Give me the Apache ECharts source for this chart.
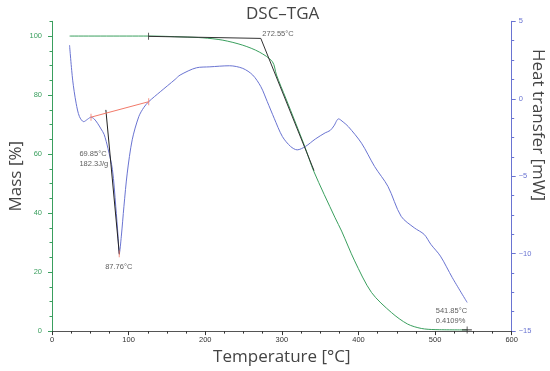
<!DOCTYPE html>
<html><head><meta charset="utf-8">
<script src="https://cdn.jsdelivr.net/npm/echarts@6/dist/echarts.min.js"></script>
<style>html,body{margin:0;padding:0;background:#fff}#c{width:550px;height:371px}</style>
</head><body><div id="c"></div>
<script>
const chartTitle = 'DSC–TGA';
const xName = 'Temperature [°C]';
const massName = 'Mass [%]';
const heatName = 'Heat transfer [mW]';
const massTicks = [0, 20, 40, 60, 80, 100];

// TGA: [temperature °C, mass %]
const tgaData = [
  [23, 100], [126, 100], [171, 99.7], [197, 99.4], [223, 98.6], [249, 96.9],
  [270.5, 94.6], [287.7, 91.3], [293, 86.8], [305, 79], [318, 70.5], [330, 62.5],
  [341.6, 54.2], [369.5, 38.4], [378, 33.9], [395, 23.8], [417, 13.1], [443, 6.3],
  [464, 2.4], [482, 0.9], [500, 0.5], [541.85, 0.41]
];
// DSC: [temperature °C, heat flow mW]
const dscData = [
  [22.9, 3.46], [27, 1.2], [31.5, -0.29], [35.8, -1.15], [41.4, -1.48], [46.5, -1.32],
  [50.9, -1.19], [55, -1.3], [59.4, -1.58], [64, -1.95], [68, -2.3], [73, -3.2],
  [78.9, -4.58], [83.2, -6.94], [86.2, -8.87], [87.8, -10.0], [90.5, -8.87],
  [93.9, -6.94], [98.2, -4.8], [104.7, -2.65], [113.3, -1.15], [120, -0.55],
  [126.2, -0.19], [141.3, 0.45], [160.7, 1.25], [167.2, 1.53], [188.6, 2.0],
  [206, 2.06], [231.8, 2.13], [249, 1.96], [262, 1.53], [272.6, 0.78], [281, -0.19],
  [290, -1.26], [300.7, -2.44], [311.4, -3.08], [320, -3.3], [330.8, -3.08],
  [343.7, -2.6], [356.6, -2.2], [363, -2.05], [368, -1.75], [374, -1.3],
  [380, -1.5], [386.8, -1.8], [404, -2.87], [421, -4.37], [438.5, -5.66],
  [455.7, -7.59], [472.8, -8.33], [485.8, -8.76], [494.5, -9.4], [507, -10.16],
  [522.5, -11.55], [541.85, -13.15]
];

const tgaOnsetLine = [[126, 99.9], [272.55, 99.2], [342, 54.4]];
const dscOnsetLine = [[70.3, -0.72], [87.9, -10.05]];
const dscBaseline = [[50.9, -1.19], [126.2, -0.19]];
const tgaEndLine = [[535, 0.41], [548, 0.41]];
const tgaMarks = [[126, 99.9], [541.85, 0.41]];
const dscBaseMarks = [[50.9, -1.19], [126.2, -0.19], [87.76, -10.0]];
const tgaLabels = [
  { value: [274.5, 100.6], text: '272.55°C' },
  { value: [500.9, 5.2], text: '541.85°C\n0.4109%' }
];
const dscLabels = [
  { value: [35.8, -3.87], text: '69.85°C\n182.3J/g' },
  { value: [69.4, -10.84], text: '87.76°C' }
];

const GREEN = '#3a9f5e';
const BLUE = '#6a74d2';
const AXC = '#333';
const RED = '#f27a6a';
const tickFont = 'Liberation Sans, Arial, sans-serif';
const nameFont = 'Open Sans, sans-serif';

const chart = echarts.init(document.getElementById('c'), null, { renderer: 'canvas' });

function labelSeries(list, yIdx) {
  return {
    type: 'scatter', xAxisIndex: 0, yAxisIndex: yIdx, symbolSize: 0, silent: true,
    data: list.map(d => ({ value: d.value, label: { formatter: d.text } })),
    label: { show: true, position: 'right', distance: 0, color: '#333', fontSize: 7.5,
      fontFamily: tickFont, lineHeight: 10, align: 'left', verticalAlign: 'middle' },
    z: 5
  };
}
function segSeries(data, yIdx, color) {
  return { type: 'line', xAxisIndex: 0, yAxisIndex: yIdx, data: data, symbol: 'none',
    showSymbol: false, silent: true, lineStyle: { color: color, width: 1 }, z: 4 };
}

chart.setOption({
  animation: false,
  backgroundColor: '#fff',
  title: { text: chartTitle, left: 241, top: 1,
    textStyle: { fontFamily: nameFont, fontSize: 17, fontWeight: 'normal', color: '#444' } },
  grid: { left: 47.3, right: 38.3, top: 21.3, bottom: 39 },
  xAxis: [
    { type: 'value', position: 'bottom', min: 0, max: 600, interval: 100,
      name: xName, nameLocation: 'middle', nameGap: 15,
      nameTextStyle: { fontFamily: nameFont, fontSize: 17, color: '#444' },
      axisLine: { lineStyle: { color: AXC, width: 1 } },
      axisTick: { length: 4, lineStyle: { color: AXC } },
      minorTick: { show: true, splitNumber: 4, length: 2.5, lineStyle: { color: AXC } },
      axisLabel: { color: AXC, fontSize: 7.5, fontFamily: tickFont, margin: 5 },
      splitLine: { show: false } },
    { type: 'value', position: 'top', min: 0, max: 600,
      axisLine: { lineStyle: { color: '#555', width: 1 } },
      axisTick: { show: false }, axisLabel: { show: false }, splitLine: { show: false } }
  ],
  yAxis: [
    { type: 'value', position: 'left', min: 0, max: 105, interval: 5,
      name: massName, nameLocation: 'middle', nameGap: 27,
      nameTextStyle: { fontFamily: nameFont, fontSize: 17, color: '#444' },
      axisLine: { show: true, lineStyle: { color: GREEN, width: 1 } },
      axisTick: { length: 2.5, lineStyle: { color: GREEN } },
      axisLabel: { show: false }, splitLine: { show: false } },
    { type: 'value', position: 'left', min: 0, max: 105,
      axisLine: { show: false },
      axisTick: { show: true, length: 4, customValues: massTicks, lineStyle: { color: GREEN } },
      axisLabel: { customValues: massTicks, color: GREEN, fontSize: 7.5, fontFamily: tickFont, margin: 10 },
      splitLine: { show: false } },
    { type: 'value', position: 'right', min: -15, max: 5, interval: 5,
      axisLine: { show: true, lineStyle: { color: BLUE, width: 1 } },
      axisTick: { length: 4, lineStyle: { color: BLUE } },
      minorTick: { show: true, splitNumber: 4, length: 2.5, lineStyle: { color: BLUE } },
      axisLabel: { color: BLUE, fontSize: 7.5, fontFamily: tickFont, margin: 7,
        formatter: v => String(v).replace('-', '−') },
      splitLine: { show: false } }
  ],
  graphic: [
    { type: 'text', x: 538, y: 125, rotation: -Math.PI / 2, silent: true,
      style: { text: heatName, fontFamily: nameFont, fontSize: 17, fill: '#444',
        align: 'center', verticalAlign: 'middle' } }
  ],
  series: [
    { type: 'line', name: 'TGA', xAxisIndex: 0, yAxisIndex: 0, data: tgaData, symbol: 'none',
      smooth: 0.3, lineStyle: { color: GREEN, width: 1 }, z: 3 },
    { type: 'line', name: 'DSC', xAxisIndex: 0, yAxisIndex: 2, data: dscData, symbol: 'none',
      smooth: 0.3, lineStyle: { color: BLUE, width: 1 }, z: 3 },
    segSeries(tgaOnsetLine, 0, '#333'),
    segSeries(tgaEndLine, 0, '#333'),
    segSeries(dscOnsetLine, 2, '#222'),
    segSeries(dscBaseline, 2, RED),
    { type: 'scatter', xAxisIndex: 0, yAxisIndex: 0, data: tgaMarks, symbol: 'rect',
      symbolSize: [1, 7], itemStyle: { color: '#333' }, silent: true, z: 4 },
    { type: 'scatter', xAxisIndex: 0, yAxisIndex: 2, data: dscBaseMarks, symbol: 'rect',
      symbolSize: [1, 7], itemStyle: { color: RED }, silent: true, z: 4 },
    labelSeries(tgaLabels, 0),
    labelSeries(dscLabels, 2)
  ]
});
</script></body></html>
